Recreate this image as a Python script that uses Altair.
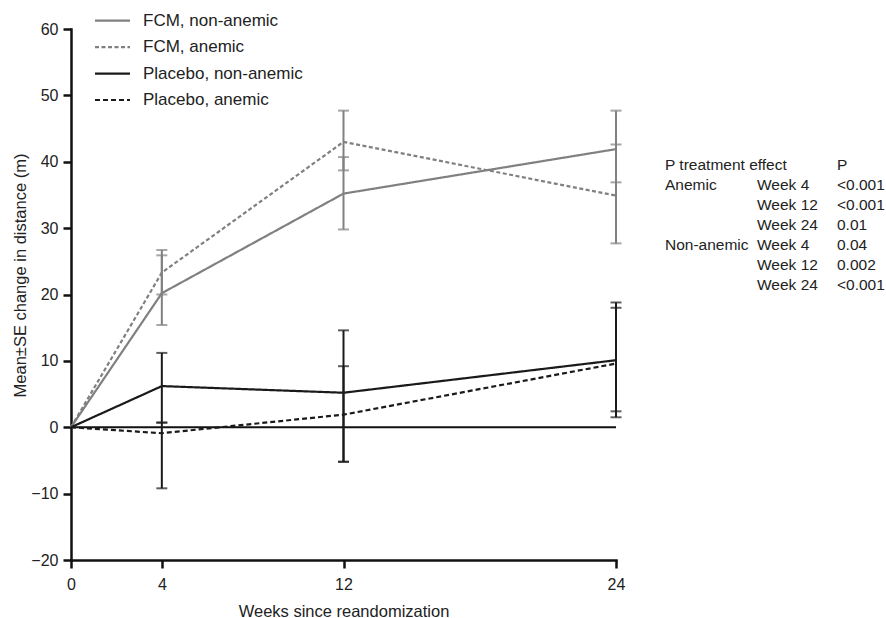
import altair as alt
import pandas as pd

# ---------------- data ----------------
series = ["FCM, non-anemic", "FCM, anemic", "Placebo, non-anemic", "Placebo, anemic"]
series_colors = ["#808080", "#808080", "#1a1a1a", "#1a1a1a"]
series_dash = [[1, 0], [4, 2.5], [1, 0], [5, 3]]

weeks = [0, 4, 12, 24]
mean_fcm_non = [0, 20.2, 35.2, 41.9]
mean_fcm_an = [0, 23.3, 43.0, 34.9]
mean_pla_non = [0, 6.2, 5.2, 10.1]
mean_pla_an = [0, -0.9, 1.9, 9.6]

err_weeks = [4, 12, 24]
lo_fcm_non = [15.4, 29.8, 36.9]
hi_fcm_non = [25.9, 40.7, 47.7]
lo_fcm_an = [20.0, 38.7, 27.7]
hi_fcm_an = [26.7, 47.7, 42.6]
lo_pla_non = [0.7, -5.2, 1.5]
hi_pla_non = [11.2, 14.6, 18.8]
lo_pla_an = [-9.2, -5.2, 2.4]
hi_pla_an = [0.7, 9.2, 18.0]

y_ticks = [-20, -10, 0, 10, 20, 30, 40, 50, 60]
zero_line = {"x0": [0], "x1": [24], "y": [0]}

tbl_c0 = ["P treatment effect", "Anemic", "", "", "Non-anemic", "", ""]
tbl_c1 = ["", "Week 4", "Week 12", "Week 24", "Week 4", "Week 12", "Week 24"]
tbl_c2 = ["P", "<0.001", "<0.001", "0.01", "0.04", "0.002", "<0.001"]

# ---------------- tables ----------------
means = [mean_fcm_non, mean_fcm_an, mean_pla_non, mean_pla_an]
los = [lo_fcm_non, lo_fcm_an, lo_pla_non, lo_pla_an]
his = [hi_fcm_non, hi_fcm_an, hi_pla_non, hi_pla_an]

line_rows = []
for s, m in zip(series, means):
    for w, v in zip(weeks, m):
        line_rows.append({"series": s, "week": w, "value": v})
df_lines = pd.DataFrame(line_rows)

err_rows = []
for s, lo, hi in zip(series, los, his):
    for w, a, b in zip(err_weeks, lo, hi):
        err_rows.append({"series": s, "week": w, "lo": a, "hi": b})
df_err = pd.DataFrame(err_rows)

df_zero = pd.DataFrame(zero_line)
df_leg = pd.DataFrame({"series": series})
df_tbl = pd.DataFrame({"row": list(range(len(tbl_c0))), "c0": tbl_c0, "c1": tbl_c1, "c2": tbl_c2})

FONT = "Liberation Sans"
INK = "#222222"

W, H = 545, 531

color_scale = alt.Scale(domain=series, range=series_colors)
dash_scale = alt.Scale(domain=series, range=series_dash)
x_scale = alt.Scale(domain=[0, 24], nice=False)
y_scale = alt.Scale(domain=[-20, 60], nice=False)

x_axis = alt.Axis(
    values=weeks, title="Weeks since reandomization", grid=False,
    domainColor="#111", domainWidth=2.5, domainCap="square",
    tickColor="#111", tickWidth=2.5, tickSize=8,
    labelFont=FONT, labelFontSize=16, labelColor=INK, labelPadding=8, labelFlush=False,
    titleFont=FONT, titleFontSize=16.5, titleFontWeight="normal", titleColor=INK,
    titleY=51, titleBaseline="middle",
)
y_axis = alt.Axis(
    values=y_ticks, title="Mean±SE change in distance (m)", grid=False,
    domainColor="#111", domainWidth=2.5, domainCap="square",
    tickColor="#111", tickWidth=2.5, tickSize=8,
    labelFont=FONT, labelFontSize=16, labelColor=INK, labelPadding=5,
    titleFont=FONT, titleFontSize=16.5, titleFontWeight="normal", titleColor=INK,
    titleX=-51, titleY=246, titleBaseline="middle", titleAlign="center",
)

zero = alt.Chart(df_zero).mark_rule(color="#111", strokeWidth=2).encode(
    x=alt.X("x0:Q", scale=x_scale, axis=x_axis),
    x2="x1:Q",
    y=alt.Y("y:Q", scale=y_scale, axis=y_axis),
)

err = alt.Chart(df_err).mark_rule(strokeWidth=2).encode(
    x=alt.X("week:Q", scale=x_scale, axis=x_axis),
    y=alt.Y("lo:Q", scale=y_scale, axis=y_axis),
    y2="hi:Q",
    color=alt.Color("series:N", scale=color_scale, legend=None),
)
cap_lo = alt.Chart(df_err).mark_tick(orient="horizontal", size=11, thickness=2).encode(
    x=alt.X("week:Q", scale=x_scale, axis=x_axis),
    y=alt.Y("lo:Q", scale=y_scale, axis=y_axis),
    color=alt.Color("series:N", scale=color_scale, legend=None),
)
cap_hi = alt.Chart(df_err).mark_tick(orient="horizontal", size=11, thickness=2).encode(
    x=alt.X("week:Q", scale=x_scale, axis=x_axis),
    y=alt.Y("hi:Q", scale=y_scale, axis=y_axis),
    color=alt.Color("series:N", scale=color_scale, legend=None),
)
lines = alt.Chart(df_lines).mark_line(strokeWidth=2.2).encode(
    x=alt.X("week:Q", scale=x_scale, axis=x_axis),
    y=alt.Y("value:Q", scale=y_scale, axis=y_axis),
    color=alt.Color("series:N", scale=color_scale, legend=None),
    strokeDash=alt.StrokeDash("series:N", scale=dash_scale, legend=None),
    detail="series:N",
)
main = alt.layer(zero, err, cap_lo, cap_hi, lines)

# ----- legend (top-left, inside) -----
leg_y = alt.Y("series:N", sort=series,
              scale=alt.Scale(type="point", domain=series, range=[-8.3, 71], padding=0),
              axis=None)
leg_line = alt.Chart(df_leg).mark_rule(strokeWidth=2.2).encode(
    x=alt.value(24), x2=alt.value(59),
    y=leg_y,
    color=alt.Color("series:N", scale=color_scale, legend=None),
    strokeDash=alt.StrokeDash("series:N", scale=dash_scale, legend=None),
)
leg_text = alt.Chart(df_leg).mark_text(
    align="left", baseline="middle", font=FONT, fontSize=17, color=INK
).encode(x=alt.value(72), y=leg_y, text="series:N")
legend = alt.layer(leg_line, leg_text)

# ----- p-value table -----
tbl_y = alt.Y("row:O", scale=alt.Scale(type="point", range=[136, 256], padding=0), axis=None)
col_x = [594, 686, 766]
tbl_layers = []
for cx, col in zip(col_x, ["c0", "c1", "c2"]):
    tbl_layers.append(
        alt.Chart(df_tbl).mark_text(
            align="left", baseline="middle", font=FONT, fontSize=15.5, color=INK
        ).encode(x=alt.value(cx), y=tbl_y, text=f"{col}:N")
    )
table = alt.layer(*tbl_layers)

chart = alt.layer(main, legend, table).resolve_scale(
    x="independent", y="independent", color="independent", strokeDash="independent"
).properties(
    width=W, height=H,
    autosize="none",
    padding={"left": 71, "top": 29, "right": 886 - 71 - W, "bottom": 618 - 29 - H},
    background="white",
).configure_view(stroke=None)

chart.save("out.html", embed_options={"renderer": "svg", "actions": False})
